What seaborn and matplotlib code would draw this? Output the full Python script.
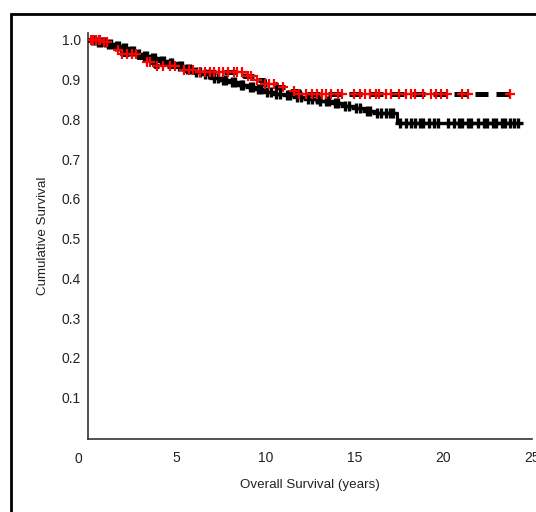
import numpy as np
import pandas as pd
import matplotlib
matplotlib.use("Agg")
import matplotlib.pyplot as plt
from matplotlib.patches import Rectangle
import seaborn as sns

# Kaplan-Meier step estimates (time in years, cumulative survival)
black_times = [0.0, 0.5, 1.0, 1.4, 1.8, 2.3, 2.7, 3.1, 3.5, 4.0, 4.5, 5.0, 5.5, 6.0,
               6.5, 7.0, 7.5, 8.0, 8.5, 9.0, 9.5, 10.0, 10.5, 11.1, 11.7, 12.3, 13.0,
               13.8, 14.4, 15.0, 15.6, 16.2, 17.4, 24.2]
black_surv = [1.0, 0.995, 0.99, 0.985, 0.98, 0.972, 0.965, 0.958, 0.953, 0.947, 0.941,
              0.934, 0.927, 0.92, 0.913, 0.905, 0.899, 0.893, 0.887, 0.881, 0.875,
              0.869, 0.864, 0.86, 0.855, 0.85, 0.845, 0.84, 0.834, 0.828, 0.822,
              0.816, 0.79, 0.79]

red_times = [0.0, 0.8, 1.2, 1.5, 1.9, 2.8, 3.2, 3.8, 5.3, 6.0, 8.8, 9.4, 9.9, 10.6,
             11.4, 11.9, 23.8]
red_surv = [1.0, 0.994, 0.985, 0.975, 0.965, 0.957, 0.945, 0.935, 0.925, 0.92, 0.91,
            0.9, 0.89, 0.88, 0.872, 0.864, 0.864]

# Censored observations
black_censor = [0.2, 0.4, 0.55, 0.75, 0.95, 1.15, 1.3, 1.6, 1.75, 2.0, 2.15, 2.45, 2.6,
                2.9, 3.15, 3.3, 3.6, 3.75, 4.1, 4.3, 4.6, 4.75, 5.1, 5.3, 5.6, 5.75,
                6.1, 6.3, 6.6, 6.8, 7.1, 7.3, 7.6, 7.8, 8.1, 8.3, 8.6, 8.75, 9.1, 9.3,
                9.6, 9.75, 10.1, 10.3, 10.6, 10.8, 11.2, 11.4, 11.8, 12.0, 12.4, 12.6,
                12.9, 13.1, 13.4, 13.6, 13.9, 14.1, 14.5, 14.7, 15.1, 15.3, 15.7, 15.9,
                16.3, 16.5, 16.8, 17.0, 17.2, 17.6, 17.9, 18.2, 18.4, 18.7, 18.9, 19.2,
                19.5, 19.7, 20.3, 20.6, 20.9, 21.1, 21.4, 21.6, 22.0, 22.3, 22.5, 22.8,
                23.0, 23.3, 23.5, 23.8, 24.0, 24.2]
red_censor = [0.15, 0.3, 0.45, 0.6, 0.7, 0.9, 1.05, 1.7, 1.9, 2.2, 2.5, 2.7, 3.3, 3.5,
              3.9, 4.2, 4.6, 4.9, 5.4, 5.7, 5.9, 6.3, 6.6, 6.9, 7.1, 7.4, 7.6, 7.9,
              8.2, 8.4, 8.7, 9.0, 9.2, 9.5, 10.0, 10.2, 10.5, 11.0, 11.6, 11.9, 12.3,
              12.6, 12.9, 13.2, 13.4, 13.7, 14.1, 14.3, 15.0, 15.3, 15.6, 15.9, 16.2,
              16.4, 16.8, 17.1, 17.5, 17.9, 18.2, 18.4, 18.9, 19.3, 19.6, 19.9, 20.2,
              21.1, 21.4, 23.8]

x_ticks = [0, 5, 10, 15, 20, 25]
y_ticks = [0.1, 0.2, 0.3, 0.4, 0.5, 0.6, 0.7, 0.8, 0.9, 1.0]


def surv_at(times, surv, t):
    idx = np.searchsorted(np.asarray(times), np.asarray(t), side="right") - 1
    return np.asarray(surv)[idx]


black_df = pd.DataFrame({"time": black_times, "surv": black_surv})
red_df = pd.DataFrame({"time": red_times, "surv": red_surv})
black_cens = pd.DataFrame({"time": black_censor,
                           "surv": surv_at(black_times, black_surv, black_censor)})
red_cens = pd.DataFrame({"time": red_censor,
                         "surv": surv_at(red_times, red_surv, red_censor)})

sns.set_theme(style="white")
plt.rcParams["font.family"] = ["Liberation Sans", "DejaVu Sans"]

fig = plt.figure(figsize=(5.36, 5.12), dpi=100)
ax = fig.add_axes([88 / 536, 1 - 438.7 / 512, (531.7 - 88) / 536, (438.7 - 33) / 512])

sns.lineplot(data=black_df, x="time", y="surv", ax=ax, color="black", lw=2.2,
             drawstyle="steps-post", estimator=None, sort=False, zorder=2)
sns.scatterplot(data=black_cens, x="time", y="surv", ax=ax, marker="+", s=60,
                color="black", linewidth=2.4, zorder=3)
sns.lineplot(data=red_df, x="time", y="surv", ax=ax, color="black", lw=3.6,
             drawstyle="steps-post", estimator=None, sort=False, zorder=4,
             linestyle=(0, (2.6, 1.6)))
sns.scatterplot(data=red_cens, x="time", y="surv", ax=ax, marker="+", s=55,
                color="#ff0000", linewidth=1.6, zorder=5)

ax.set_xlim(0, 25)
ax.set_ylim(-0.003, 1.017)
ax.set_xticks(x_ticks[1:])
ax.set_xticklabels([str(v) for v in x_ticks[1:]])
ax.set_yticks(y_ticks)
ax.set_yticklabels([f"{v:.1f}" for v in y_ticks])
# origin label sits left of the axis corner, without a tick mark
ax.annotate(str(x_ticks[0]), xy=(0, 0), xycoords=("data", "axes fraction"),
            xytext=(-7.2, -9.4), textcoords="offset points", ha="center", va="top",
            fontsize=10, color="#222222", annotation_clip=False)

sns.despine(ax=ax)
for side in ("left", "bottom"):
    ax.spines[side].set_color("#333333")
    ax.spines[side].set_linewidth(1.2)
ax.tick_params(axis="both", direction="out", length=3, width=1, color="#333333",
               labelsize=10, labelcolor="#222222")
ax.tick_params(axis="x", pad=6)
ax.tick_params(axis="y", pad=2)

ax.set_xlabel("Overall Survival (years)", fontsize=9.6, labelpad=10, color="#222222")
ax.set_ylabel("Cumulative Survival", fontsize=9.6, labelpad=9, color="#222222")

fig.add_artist(Rectangle((11 / 536, -0.1), 1.2, (512 - 13.5) / 512 + 0.1,
                         transform=fig.transFigure, fill=False, lw=2,
                         edgecolor="black"))

fig.savefig("out.png", dpi=100)
